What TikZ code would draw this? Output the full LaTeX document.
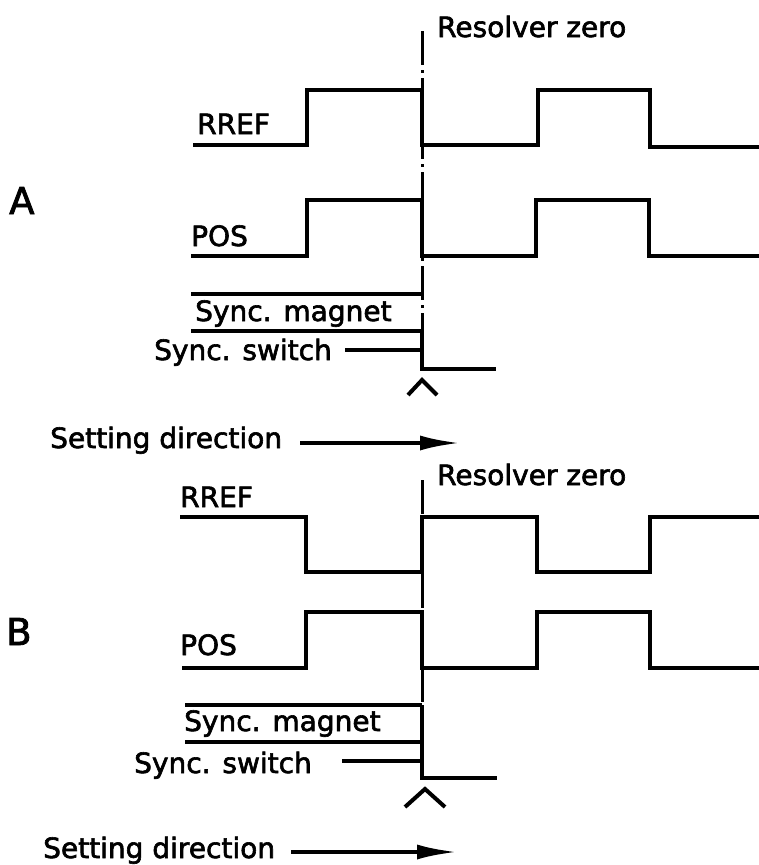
\documentclass[tikz,border=0pt]{standalone}
\usepackage{fontspec}
\setmainfont{DejaVu Sans}[BoldFont=DejaVu Sans, BoldFeatures={FakeBold=2.2}]
\usepackage{tikz}
\usetikzlibrary{arrows.meta}

\begin{document}
\begin{tikzpicture}[x=1pt, y=-1pt,
    lbl/.style={anchor=base west, inner sep=0pt, font=\fontsize{28}{30}\selectfont\bfseries},
    sect/.style={anchor=base west, inner sep=0pt, font=\fontsize{37}{40}\selectfont\bfseries},
    sig/.style={line width=3.4pt},
    zero/.style={line width=3pt, dash pattern=on 34pt off 5pt on 3pt off 5pt},
    caret/.style={line width=4pt},
    arr/.style={-{Latex[length=40pt, width=15pt]}, line width=4pt}
]
\useasboundingbox (0,0) rectangle (759,865);
\node[sect] (secA)  at (9,214)   {A};
\node[lbl]  (zeroA) at (437,37)  {Resolver zero};
\node[lbl]  (rrefA) at (197,134) {RREF};
\node[lbl]  (posA)  at (191,246) {POS};
\node[lbl]  (magA)  at (195,321) {Sync. magnet};
\node[lbl]  (swA)   at (154,360) {Sync. switch};
\node[lbl]  (dirA)  at (50,448)  {Setting direction};
\coordinate (zAtop) at (422,31);  \coordinate (zAbot) at (422,369);
\coordinate (swAz)  at (422,350); \coordinate (dirAend) at (460,443);
\draw[zero] (zAtop) -- (zAbot);
\draw[sig] (193,145) -- (307,145) -- (307,90) -- (422,90) -- (422,145) -- (538,145) -- (538,90) -- (650,90) -- (650,147) -- (759,147);
\draw[sig] (191,256) -- (307,256) -- (307,200) -- (422,200) -- (422,256) -- (536,256) -- (536,200) -- (649,200) -- (649,256) -- (759,256);
\draw[sig] (191,294) -- (422,294); \draw[sig] (191,331) -- (422,331);
\draw[sig] (swA.east |- swAz) ++(13,0) -- (swAz);
\draw[sig] (422,331) -- (zAbot) -- (496,369);
\draw[caret] (408,395) -- (422,380) -- (437,395);
\draw[arr] (dirA.east |- dirAend) ++(18,0) -- (dirAend);
\node[sect] (secB)  at (6,645)   {B};
\node[lbl]  (zeroB) at (437,485) {Resolver zero};
\node[lbl]  (rrefB) at (180,507) {RREF};
\node[lbl]  (posB)  at (180,655) {POS};
\node[lbl]  (magB)  at (184,731) {Sync. magnet};
\node[lbl]  (swB)   at (134,773) {Sync. switch};
\node[lbl]  (dirB)  at (43,858)  {Setting direction};
\coordinate (zBtop) at (422,480); \coordinate (zBbot) at (422,778);
\coordinate (swBz)  at (422,761); \coordinate (dirBend) at (457,852);
\draw[zero] (zBtop) -- (zBbot);
\draw[sig] (180,517) -- (306,517) -- (306,572) -- (422,572) -- (422,517) -- (537,517) -- (537,572) -- (650,572) -- (650,517) -- (759,517);
\draw[sig] (182,668) -- (306,668) -- (306,612) -- (422,612) -- (422,668) -- (537,668) -- (537,612) -- (650,612) -- (650,668) -- (759,668);
\draw[sig] (185,705) -- (422,705); \draw[sig] (185,742) -- (422,742);
\draw[sig] (swB.east |- swBz) ++(30,0) -- (swBz);
\draw[sig] (422,705) -- (zBbot) -- (497,778);
\draw[caret] (405,807) -- (425,789) -- (445,807);
\draw[arr] (dirB.east |- dirBend) ++(16,0) -- (dirBend);
\end{tikzpicture}
\end{document}
